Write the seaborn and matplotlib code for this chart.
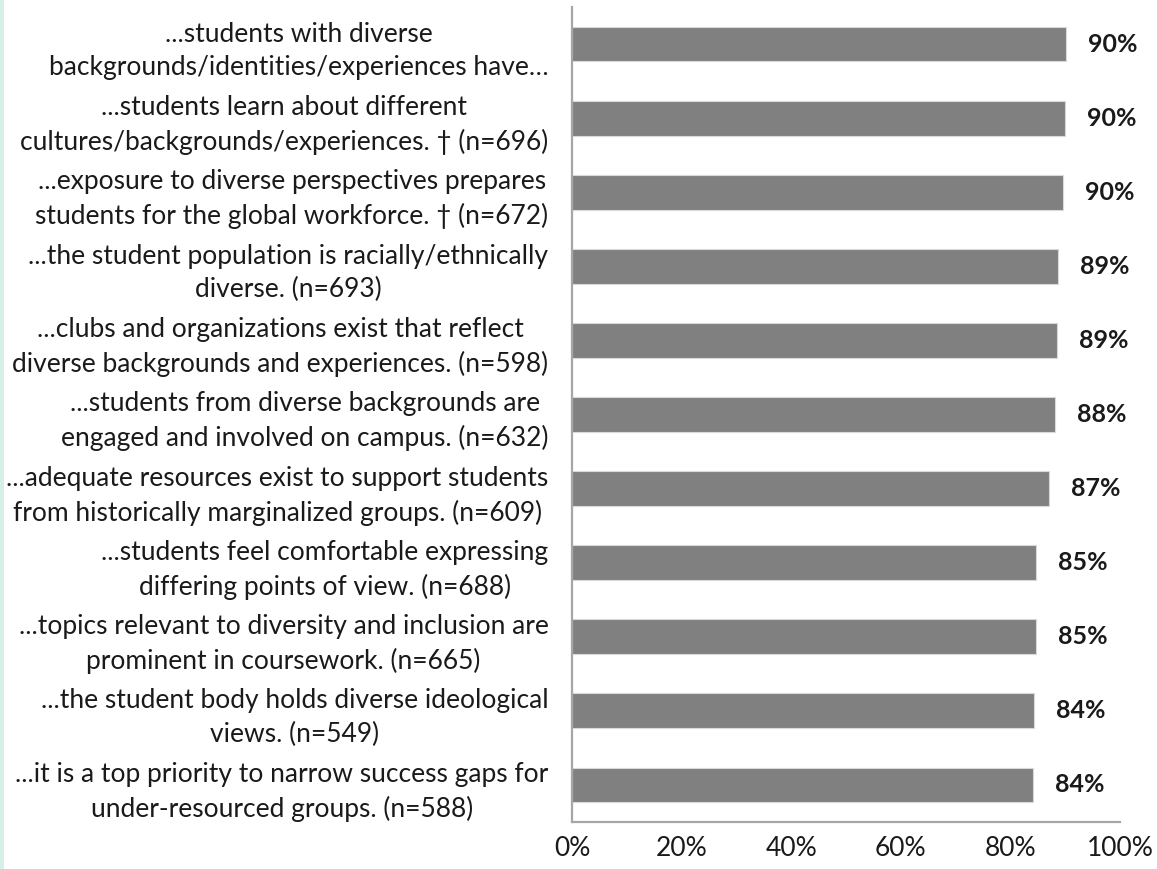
import matplotlib
matplotlib.use("Agg")
import matplotlib.pyplot as plt
import matplotlib.patches as mpatches
import pandas as pd
import seaborn as sns

# Dữ liệu
statements = [
    "...students with diverse\nbackgrounds/identities/experiences have\u2026",
    "...students learn about different\ncultures/backgrounds/experiences. \u2020 (n=696)",
    "...exposure to diverse perspectives prepares\nstudents for the global workforce. \u2020 (n=672)",
    "...the student population is racially/ethnically\ndiverse. (n=693)",
    "...clubs and organizations exist that reflect\ndiverse backgrounds and experiences. (n=598)",
    "...students from diverse backgrounds are\nengaged and involved on campus. (n=632)",
    "...adequate resources exist to support students\nfrom historically marginalized groups. (n=609)",
    "...students feel comfortable expressing\ndiffering points of view. (n=688)",
    "...topics relevant to diversity and inclusion are\nprominent in coursework. (n=665)",
    "...the student body holds diverse ideological\nviews. (n=549)",
    "...it is a top priority to narrow success gaps for\nunder-resourced groups. (n=588)",
]
pct_values = [90.1, 90.0, 89.6, 88.7, 88.5, 88.1, 87.0, 84.7, 84.7, 84.3, 84.1]
value_labels = ["90%", "90%", "90%", "89%", "89%", "88%", "87%", "85%", "85%", "84%", "84%"]
x_ticks = [0, 20, 40, 60, 80, 100]
x_tick_labels = ["0%", "20%", "40%", "60%", "80%", "100%"]

def main():
    df = pd.DataFrame({"Statement": statements, "Percent": pct_values})

    sns.set_theme(style="white")
    plt.rcParams["font.family"] = ["Lato", "DejaVu Sans"]

    fig = plt.figure(figsize=(11.57, 8.69), dpi=100)
    ax = fig.add_axes([0.4944, 0.0541, 0.4735, 0.9378])

    # dải màu xanh nhạt bên trái
    fig.patches.append(mpatches.Rectangle((0, 0), 4 / 1157, 1, transform=fig.transFigure,
                                          facecolor="#d5f0e8", edgecolor="none", zorder=0))

    sns.barplot(data=df, x="Percent", y="Statement", orient="h", ax=ax,
                color="#808080", saturation=1, width=0.47,
                edgecolor="#d9d9d9", linewidth=0.8)

    ax.set_xlim(0, 100)
    ax.set_xticks(x_ticks)
    ax.set_xticklabels(x_tick_labels, fontsize=19, color="#1a1a1a")
    ax.set_xlabel("")
    ax.set_ylabel("")
    ax.tick_params(axis="both", length=0)
    ax.tick_params(axis="x", pad=10)
    ax.tick_params(axis="y", pad=17, labelsize=19, labelcolor="#1a1a1a")
    for t in ax.get_yticklabels():
        t.set_multialignment("center")
        t.set_linespacing(1.42)

    for side in ["top", "right"]:
        ax.spines[side].set_visible(False)
    for side in ["left", "bottom"]:
        ax.spines[side].set_color("#a6a6a6")
        ax.spines[side].set_linewidth(1.6)

    ax.bar_label(ax.containers[0], labels=value_labels, padding=16,
                 fontsize=18, fontweight="bold", color="#1a1a1a")

    fig.savefig("out.png", dpi=100)

if __name__ == "__main__":
    main()
